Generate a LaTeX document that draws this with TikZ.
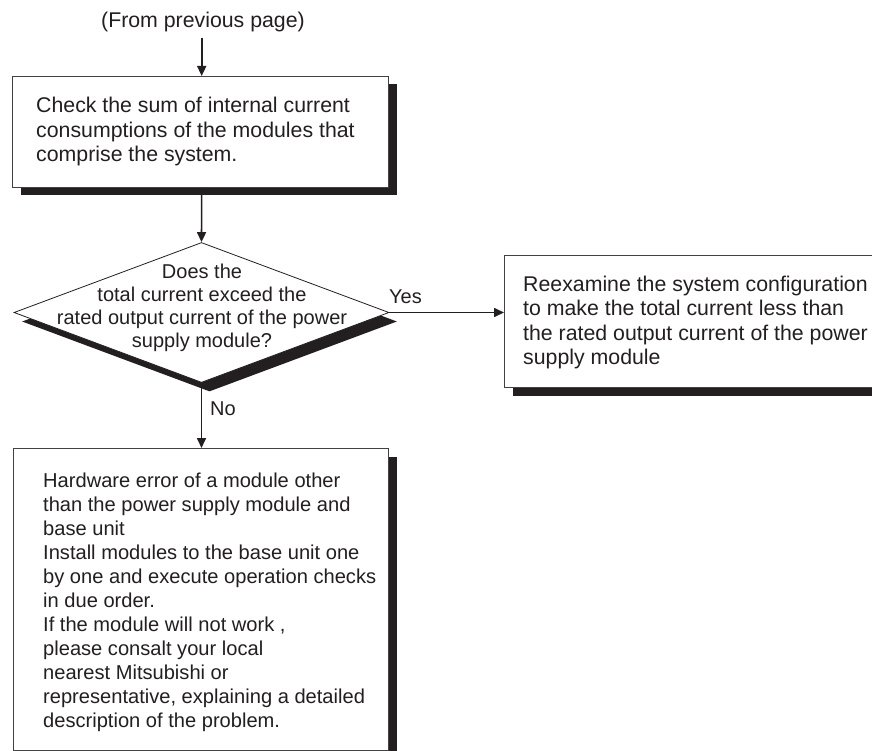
\documentclass[tikz,border=0pt]{standalone}
\usepackage{fontspec}
\setmainfont{Liberation Sans}
\usetikzlibrary{shapes.geometric,arrows.meta,shadows}
\definecolor{ink}{HTML}{231F20}
\begin{document}
\begin{tikzpicture}[x=1pt,y=-1pt,
  every node/.style={text=ink},
  txt/.style={font=\fontsize{21.3}{24.4}\selectfont, inner sep=0pt, align=left, anchor=base west},
  shad/.style={drop shadow={shadow xshift=8pt, shadow yshift=-8pt, fill=ink, opacity=1}},
  box/.style={draw=ink!85, line width=1pt, fill=white, inner sep=0pt, anchor=north west, shad},
  arr/.style={draw=ink, line width=1.6pt, -{Triangle[length=10pt,width=9pt]}},
  lbl/.style={font=\fontsize{20}{24}\selectfont, inner sep=0pt, anchor=base west}
]
\clip (0,0) rectangle (872,751);
\coordinate (ax) at (201.7,0);

\node[font=\fontsize{21.3}{24.4}\selectfont, inner sep=0pt, anchor=base] (from) at (203,28) {(From previous page)};

\node[box, minimum width=376pt, minimum height=111pt] (b1) at (12,76) {};
\node[txt] (b1t) at (36,161.8) {Check the sum of internal current\\consumptions of the modules that\\comprise the system.};

\node[diamond, draw=ink, line width=0.8pt, fill=white, inner sep=0pt,
      minimum width=375pt, minimum height=140pt,
      drop shadow={shadow xshift=8pt, shadow yshift=-9pt, fill=ink, opacity=1}] (d) at (201.5,312.5) {};
\node[font=\fontsize{20}{23.3}\selectfont, inner sep=0pt, align=center, anchor=base] (dt) at (202,347.9)
  {Does the\\total current exceed the\\rated output current of the power\\supply module?};

\node[box, minimum width=376pt, minimum height=132pt] (b2) at (504,255) {};
\node[txt] (b2t) at (523,364.5) {Reexamine the system configuration\\to make the total current less than\\the rated output current of the power\\supply module};

\node[box, minimum width=375pt, minimum height=302pt] (b3) at (13,448) {};
\node[txt, font=\fontsize{20.1}{24.0}\selectfont] (b3t) at (43,727) {Hardware error of a module other\\than the power supply module and\\base unit\\Install modules to the base unit one\\by one and execute operation checks\\in due order.\\If the module will not work ,\\please consalt your local\\nearest Mitsubishi or\\representative, explaining a detailed\\description of the problem.};

\draw[arr] ([yshift=-5pt]from.south -| ax) -- (b1.north -| ax);
\draw[arr] (b1.south -| ax) -- (d.north);
\draw[arr] (d.east) -- (b2.west |- d.east);
\draw[arr] (d.south) -- (b3.north -| d.south);

\node[lbl] (yes) at (389,303) {Yes};
\node[lbl] (no) at (210,415) {No};
\end{tikzpicture}
\end{document}
